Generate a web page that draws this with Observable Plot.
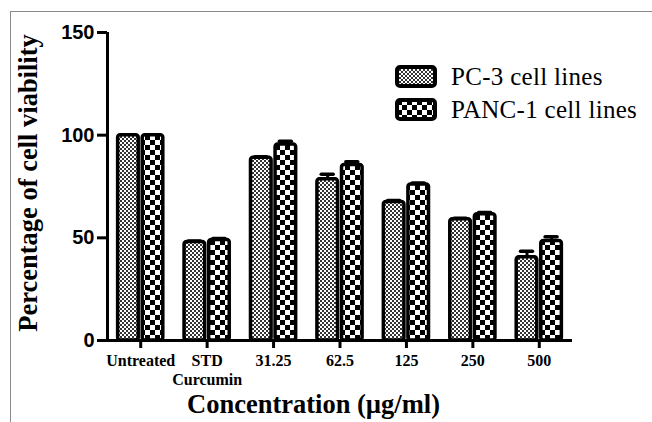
<!DOCTYPE html>
<html><head><meta charset="utf-8">
<script src="https://cdn.jsdelivr.net/npm/d3@7"></script>
<script src="https://cdn.jsdelivr.net/npm/@observablehq/plot@0.6"></script>
<style>
html,body{margin:0;padding:0;background:#fff;}
#wrap{position:relative;width:652px;height:422px;overflow:hidden;}
#wrap svg{position:absolute;left:0;top:0;}
#border{position:absolute;left:10px;top:11px;width:700px;height:500px;border-top:1.5px solid #8a8a8a;border-left:1.5px solid #8a8a8a;}
</style></head><body><div id="wrap"><div id="border"></div></div>
<script>
const groups = ["Untreated", "STD\nCurcumin", "31.25", "62.5", "125", "250", "500"];
const series = ["PC-3 cell lines", "PANC-1 cell lines"];
const pc3 = [100, 48, 89, 78.5, 67.5, 59, 40.5];
const pc3Err = [0, 0.5, 0.5, 2.5, 0.7, 0.5, 3];
const panc1 = [100, 49, 95.5, 85.5, 76, 61.5, 48.5];
const panc1Err = [0, 0.7, 1.5, 1.5, 0.7, 0.8, 2];
const yTicks = [0, 50, 100, 150];
const xLabel = "Concentration (µg/ml)";
const yLabel = "Percentage of cell viability";

const patterns = ["pat-pc3", "pat-panc1"];
const rows = [];
groups.forEach((g, i) => {
  rows.push({i, s: 0, value: pc3[i], err: pc3Err[i]});
  rows.push({i, s: 1, value: panc1[i], err: panc1Err[i]});
});
const sign = s => (s === 0 ? -1 : 1);
const inner = 0.03, outer = 0.34, capHalf = 0.09;
const cx = d => d.i + sign(d.s) * (inner + outer) / 2;

const serif = "'Liberation Serif', 'Times New Roman', serif";
const sans = "'Liberation Sans', Arial, sans-serif";

const barMarks = [0, 1].map(s => Plot.rectY(rows.filter(d => d.s === s), {
  x1: d => d.i + Math.min(sign(s) * inner, sign(s) * outer),
  x2: d => d.i + Math.max(sign(s) * inner, sign(s) * outer),
  y1: 0, y2: "value",
  fill: `url(#${patterns[s]})`, stroke: "black", strokeWidth: 3.5, rx: 2.5
}));
const errRows = rows.filter(d => d.err > 0);

const chart = Plot.plot({
  width: 652, height: 422,
  marginTop: 32, marginBottom: 82, marginLeft: 107, marginRight: 80,
  x: {type: "linear", domain: [-0.5, 6.5]},
  y: {domain: [0, 150]},
  style: {fontFamily: serif, background: "transparent", color: "black"},
  marks: [
    ...barMarks,
    Plot.ruleX(errRows, {x: cx, y1: "value", y2: d => d.value + d.err, strokeWidth: 3}),
    Plot.ruleY(errRows, {y: d => d.value + d.err, x1: d => cx(d) - capHalf, x2: d => cx(d) + capHalf, strokeWidth: 3.5, strokeLinecap: "round"}),
    Plot.axisY({ticks: yTicks, tickSize: 10, tickPadding: 3, strokeWidth: 3, fontSize: 20, fontWeight: "bold", fontFamily: sans, label: null}),
    Plot.axisX({ticks: d3.range(groups.length), tickFormat: i => groups[i], tickSize: 8, tickPadding: 4, strokeWidth: 3, fontSize: 16, fontWeight: "bold", fontFamily: serif, lineHeight: 1.2, label: null}),
    Plot.ruleY([0], {strokeWidth: 3}),
    Plot.ruleX([-0.5], {strokeWidth: 3}),
    Plot.text([yLabel], {frameAnchor: "left", textAnchor: "middle", lineAnchor: "middle", dx: -79, dy: -3.5, rotate: -90, fontSize: 26.5, fontWeight: "bold", fontFamily: serif, text: d => d}),
    Plot.text([xLabel], {frameAnchor: "bottom", textAnchor: "middle", lineAnchor: "middle", dx: -26.5, dy: 64, fontSize: 26.5, fontWeight: "bold", fontFamily: serif, text: d => d})
  ]
});

const svg = d3.select(chart);
const defs = svg.insert("defs", ":first-child");
const p1 = defs.append("pattern").attr("id", patterns[0]).attr("patternUnits", "userSpaceOnUse").attr("width", 4).attr("height", 4);
p1.append("rect").attr("width", 4).attr("height", 4).attr("fill", "white");
p1.append("rect").attr("width", 2).attr("height", 2).attr("fill", "#333");
p1.append("rect").attr("x", 2).attr("y", 2).attr("width", 2).attr("height", 2).attr("fill", "#333");
const p2 = defs.append("pattern").attr("id", patterns[1]).attr("patternUnits", "userSpaceOnUse").attr("width", 10).attr("height", 10);
p2.append("rect").attr("width", 10).attr("height", 10).attr("fill", "white");
p2.append("rect").attr("width", 5).attr("height", 5).attr("fill", "black");
p2.append("rect").attr("x", 5).attr("y", 5).attr("width", 5).attr("height", 5).attr("fill", "black");

const legend = svg.append("g").attr("text-anchor", "start");
series.forEach((name, k) => {
  const g = legend.append("g").attr("transform", `translate(397,${67 + k * 33})`);
  g.append("rect").attr("x", 0).attr("y", 0).attr("width", 38).attr("height", 19).attr("rx", 3)
    .attr("fill", `url(#${patterns[k]})`).attr("stroke", "black").attr("stroke-width", 4);
  g.append("text").attr("x", 54).attr("y", 18).attr("text-anchor", "start").attr("font-family", serif).attr("font-size", 25)
    .attr("letter-spacing", 0.3).attr("fill", "black").text(name);
});

document.getElementById("wrap").appendChild(chart);
</script>
</body></html>
